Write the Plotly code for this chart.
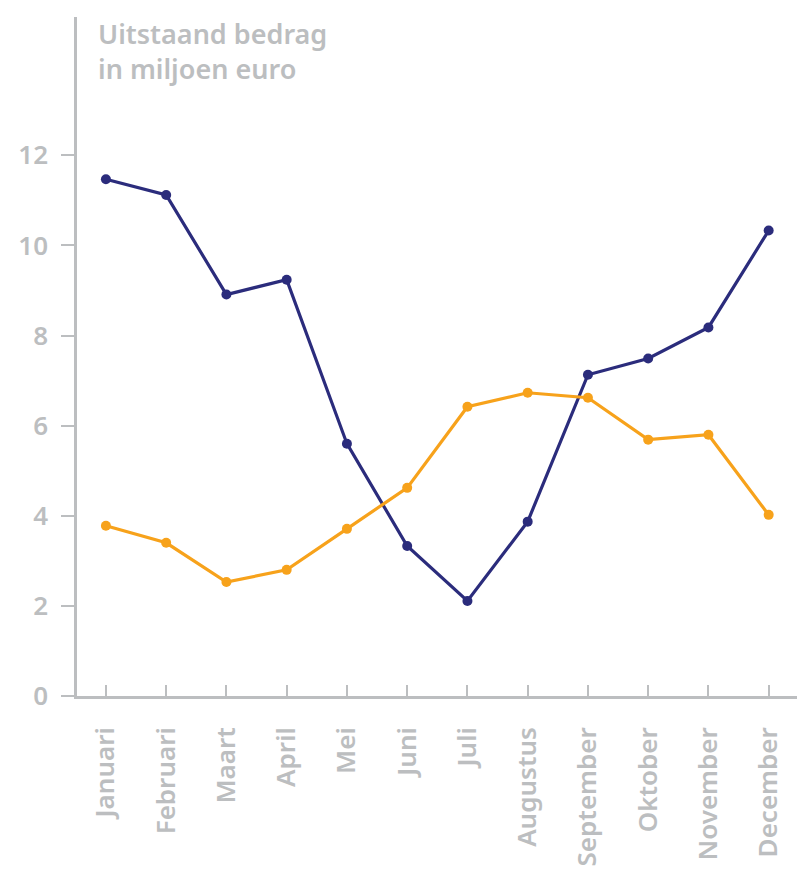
import plotly.graph_objects as go

months = ["Januari", "Februari", "Maart", "April", "Mei", "Juni", "Juli",
          "Augustus", "September", "Oktober", "November", "December"]
blue_values = [11.47, 11.12, 8.91, 9.24, 5.6, 3.33, 2.11, 3.87, 7.13, 7.49, 8.18, 10.33]
orange_values = [3.78, 3.4, 2.53, 2.8, 3.71, 4.62, 6.42, 6.73, 6.62, 5.69, 5.8, 4.02]
y_ticks = [0, 2, 4, 6, 8, 10, 12]
title_lines = ["Uitstaand bedrag", "in miljoen euro"]

NAVY = "#2b2c7c"
ORANGE = "#f7a21b"
GREY = "#bcbec0"
FONT = "Noto Sans, DejaVu Sans, sans-serif"

fig = go.Figure()
fig.add_trace(go.Scatter(x=months, y=blue_values, mode="lines+markers",
                         line=dict(color=NAVY, width=3.2),
                         marker=dict(color=NAVY, size=10), showlegend=False))
fig.add_trace(go.Scatter(x=months, y=orange_values, mode="lines+markers",
                         line=dict(color=ORANGE, width=3.2),
                         marker=dict(color=ORANGE, size=10), showlegend=False))

fig.update_layout(
    width=797, height=871,
    margin=dict(l=77, r=0, t=17, b=175, autoexpand=False),
    paper_bgcolor="white", plot_bgcolor="white",
    font=dict(family=FONT, color=GREY),
    xaxis=dict(
        type="category", range=[-0.48, 11.47], automargin=False,
        showline=True, linecolor=GREY, linewidth=2.5,
        ticks="inside", ticklen=11, tickwidth=2, tickcolor=GREY,
        tickangle=-90, tickfont=dict(size=26, color=GREY, family=FONT, weight=600),
        ticklabelstandoff=18,
        showgrid=False, zeroline=False,
    ),
    yaxis=dict(
        range=[0, 15.07], tickvals=y_ticks, automargin=False,
        showline=True, linecolor=GREY, linewidth=2.5,
        ticks="outside", ticklen=13, tickwidth=2, tickcolor=GREY,
        tickfont=dict(size=26, color=GREY, family=FONT, weight=600),
        ticklabelstandoff=8,
        showgrid=False, zeroline=False,
    ),
    annotations=[dict(
        text="<br>".join(title_lines), xref="paper", yref="paper",
        x=0, y=1, xshift=19, yshift=4, xanchor="left", yanchor="top",
        align="left", showarrow=False,
        font=dict(size=27, color=GREY, family=FONT, weight=600),
    )],
)

fig.write_html("out.html", config={"displayModeBar": False},
               post_script="document.body.style.margin='0';document.body.style.overflow='hidden';")
